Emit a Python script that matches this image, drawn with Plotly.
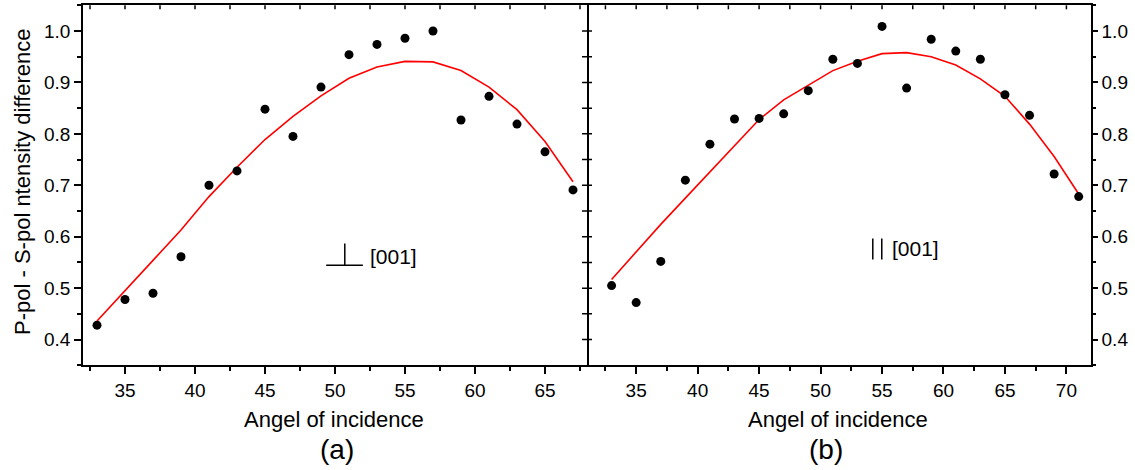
import plotly.graph_objects as go

# ---------------- data ----------------
angles_a = [33, 35, 37, 39, 41, 43, 45, 47, 49, 51, 53, 55, 57, 59, 61, 63, 65, 67]
meas_a = [0.428, 0.478, 0.490, 0.561, 0.700, 0.728, 0.848, 0.795, 0.891, 0.954,
          0.974, 0.986, 1.000, 0.827, 0.873, 0.819, 0.765, 0.691]
fit_a = [0.436, 0.494, 0.554, 0.613, 0.678, 0.735, 0.789, 0.834, 0.874, 0.908,
         0.930, 0.941, 0.940, 0.923, 0.891, 0.847, 0.785, 0.707]

angles_b = [33, 35, 37, 39, 41, 43, 45, 47, 49, 51, 53, 55, 57, 59, 61, 63, 65, 67, 69, 71]
meas_b = [0.505, 0.472, 0.552, 0.710, 0.780, 0.829, 0.830, 0.839, 0.884, 0.945,
          0.937, 1.009, 0.889, 0.984, 0.961, 0.945, 0.876, 0.836, 0.722, 0.678]
fit_b = [0.517, 0.571, 0.624, 0.675, 0.726, 0.777, 0.828, 0.866, 0.895, 0.923,
         0.941, 0.956, 0.958, 0.950, 0.934, 0.907, 0.873, 0.819, 0.756, 0.683]

x_range_a = [32, 68]
x_range_b = [31, 72]
y_range = [0.35, 1.05]

# positions of the inward mirror ticks (top edges and the shared middle edge)
top_ticks_a = [32.5, 35, 37.5, 40, 42.5, 45, 47.5, 50, 52.5, 55, 57.5, 60, 62.5, 65, 67.5]
top_ticks_b = [32.5, 35, 37.5, 40, 42.5, 45, 47.5, 50, 52.5, 55, 57.5, 60, 62.5, 65, 67.5, 70]
side_ticks = [0.4, 0.45, 0.5, 0.55, 0.6, 0.65, 0.7, 0.75, 0.8, 0.85, 0.9, 0.95, 1.0]

x_title = "Angel of incidence"
y_title = "P-pol - S-pol ntensity difference"
panel_labels = ["(a)", "(b)"]
orient_label = "[001]"

FONT = "Liberation Sans, Arial, sans-serif"
W, H = 1135, 470

# layout geometry (pixels -> paper)
xa_dom = [83 / W, 587 / W]
xb_dom = [587 / W, 1091 / W]
y_dom = [1 - 365.3 / H, 1 - 5.3 / H]

fig = go.Figure()

fig.add_trace(go.Scatter(x=angles_a, y=fit_a, mode="lines",
                         line=dict(color="#ff0000", width=1.6),
                         xaxis="x", yaxis="y", showlegend=False))
fig.add_trace(go.Scatter(x=angles_a, y=meas_a, mode="markers",
                         marker=dict(color="black", size=9),
                         xaxis="x", yaxis="y", showlegend=False))
fig.add_trace(go.Scatter(x=angles_b, y=fit_b, mode="lines",
                         line=dict(color="#ff0000", width=1.6),
                         xaxis="x2", yaxis="y2", showlegend=False))
fig.add_trace(go.Scatter(x=angles_b, y=meas_b, mode="markers",
                         marker=dict(color="black", size=9),
                         xaxis="x2", yaxis="y2", showlegend=False))

tickfont = dict(family=FONT, size=19, color="black")

def main_x(dom, rng, anchor):
    return dict(domain=dom, range=rng, anchor=anchor, showgrid=False, zeroline=False,
                showline=True, linecolor="black", linewidth=1.5, mirror=True,
                ticks="outside", ticklen=7, tickwidth=1.5, tickcolor="black",
                tick0=35, dtick=5, tickfont=tickfont,
                minor=dict(ticks="outside", ticklen=4, tickwidth=1.5, tickcolor="black",
                           tick0=32.5, dtick=2.5, showgrid=False))

def main_y(side, anchor, dom, mirror):
    return dict(domain=dom, range=y_range, anchor=anchor, side=side, showgrid=False,
                zeroline=False, showline=True, linecolor="black", linewidth=1.5,
                mirror=mirror, ticks="outside", ticklen=7 if side == "left" else 5,
                tickwidth=1.5, tickcolor="black", tick0=0.4, dtick=0.1,
                tickformat=".1f", tickfont=tickfont,
                minor=dict(ticks="outside", ticklen=4 if side == "left" else 3,
                           tickwidth=1.5, tickcolor="black", tick0=0.35, dtick=0.05,
                           showgrid=False))

fig.update_layout(
    width=W, height=H,
    margin=dict(l=0, r=0, t=0, b=0),
    paper_bgcolor="white", plot_bgcolor="white",
    showlegend=False,
    xaxis=main_x(xa_dom, x_range_a, "y"),
    yaxis=main_y("left", "x", y_dom, True),
    xaxis2=main_x(xb_dom, x_range_b, "y2"),
    yaxis2=main_y("right", "x2", y_dom, False),
)

# ---- inward mirror ticks (top edges and shared middle edge) ----
tick_style = dict(color="black", width=1.5)
TOP_LEN = 4 / H
SIDE_LEN = 5 / W
for xv in top_ticks_a:
    fig.add_shape(type="line", xref="x", yref="paper", x0=xv, x1=xv,
                  y0=y_dom[1], y1=y_dom[1] - TOP_LEN, line=tick_style)
for xv in top_ticks_b:
    fig.add_shape(type="line", xref="x2", yref="paper", x0=xv, x1=xv,
                  y0=y_dom[1], y1=y_dom[1] - TOP_LEN, line=tick_style)
for yv in side_ticks:
    fig.add_shape(type="line", xref="paper", yref="y", x0=xa_dom[1], x1=xa_dom[1] - SIDE_LEN,
                  y0=yv, y1=yv, line=tick_style)
    fig.add_shape(type="line", xref="paper", yref="y2", x0=xb_dom[0], x1=xb_dom[0] + SIDE_LEN,
                  y0=yv, y1=yv, line=tick_style)

# ---- orientation symbols ----
line_style = dict(color="black", width=1.5)
# perpendicular sign, panel (a)
fig.add_shape(type="line", xref="x", yref="y", x0=49.37, x1=51.99, y0=0.5444, y1=0.5444, line=line_style)
fig.add_shape(type="line", xref="x", yref="y", x0=50.70, x1=50.70, y0=0.5444, y1=0.5867, line=line_style)
# parallel sign, panel (b)
fig.add_shape(type="line", xref="x2", yref="y2", x0=54.25, x1=54.25, y0=0.5556, y1=0.5965, line=line_style)
fig.add_shape(type="line", xref="x2", yref="y2", x0=54.98, x1=54.98, y0=0.5556, y1=0.5965, line=line_style)

ann_font = dict(family=FONT, size=21, color="black")
fig.add_annotation(text=orient_label, xref="x", yref="y", x=52.33, y=0.562,
                   xanchor="left", yanchor="middle", showarrow=False, font=ann_font)
fig.add_annotation(text=orient_label, xref="x2", yref="y2", x=55.67, y=0.577,
                   xanchor="left", yanchor="middle", showarrow=False, font=ann_font)

# ---- titles ----
title_font = dict(family=FONT, size=22, color="black")
fig.add_annotation(text=x_title, xref="paper", yref="paper", x=334 / W, y=1 - 419 / H,
                   xanchor="center", yanchor="middle", showarrow=False, font=title_font)
fig.add_annotation(text=x_title, xref="paper", yref="paper", x=838 / W, y=1 - 419 / H,
                   xanchor="center", yanchor="middle", showarrow=False, font=title_font)
fig.add_annotation(text=y_title, xref="paper", yref="paper", x=22 / W, y=1 - 182 / H,
                   xanchor="center", yanchor="middle", textangle=-90, showarrow=False,
                   font=title_font)
lab_font = dict(family=FONT, size=28, color="black")
fig.add_annotation(text=panel_labels[0], xref="paper", yref="paper", x=336.7 / W, y=1 - 449 / H,
                   xanchor="center", yanchor="middle", showarrow=False, font=lab_font)
fig.add_annotation(text=panel_labels[1], xref="paper", yref="paper", x=826.3 / W, y=1 - 449 / H,
                   xanchor="center", yanchor="middle", showarrow=False, font=lab_font)

fig.write_html("out.html", config=dict(displayModeBar=False))
